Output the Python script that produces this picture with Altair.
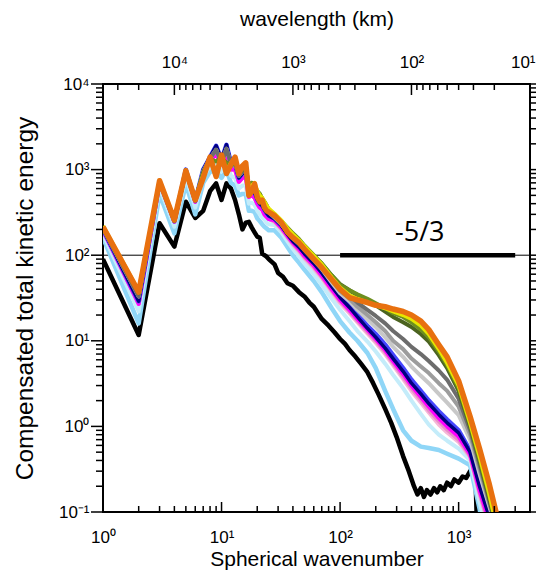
import altair as alt
import pandas as pd

# ---------------- data ----------------
n_low = list(range(1, 26))
n_high = [28, 32, 36, 40, 45, 50, 60, 70, 85, 100, 120, 140, 170, 200, 240, 280,
          340, 400, 480, 560, 680, 800, 1000, 1250, 1500, 1800, 2200]

low_orange = [215, 37, 740, 258, 970, 442, 800, 1400, 830, 1480, 900, 1150, 1400, 900, 1100, 1200, 500, 560, 680, 480, 420, 440, 360, 330, 320]
low_yellow = [220, 38, 750, 262, 990, 450, 850, 1380, 900, 1450, 950, 1200, 1350, 950, 1080, 1150, 600, 650, 700, 560, 500, 470, 420, 380, 350]
low_green = [210, 36, 730, 255, 960, 440, 900, 1300, 1250, 1350, 1200, 1100, 1250, 900, 1000, 1050, 650, 700, 640, 560, 520, 460, 420, 380, 340]
low_gray = [205, 33, 720, 250, 950, 435, 950, 1350, 1700, 1200, 1750, 1150, 1200, 850, 950, 1000, 620, 640, 600, 520, 460, 420, 380, 350, 320]
low_blue = [200, 29, 720, 250, 1000, 430, 1000, 1400, 1900, 1300, 1950, 1200, 1150, 800, 900, 950, 560, 580, 540, 450, 400, 380, 340, 310, 290]
low_magenta = [195, 27, 700, 245, 960, 420, 950, 1300, 1500, 1150, 1500, 1000, 1000, 720, 800, 820, 480, 500, 470, 400, 360, 340, 300, 280, 265]
low_lcyan = [175, 22, 620, 215, 820, 360, 820, 1100, 1150, 950, 1200, 850, 800, 600, 650, 650, 400, 410, 390, 330, 300, 280, 260, 240, 230]
low_lblue = [160, 16, 520, 180, 680, 300, 700, 950, 950, 800, 1000, 700, 650, 500, 520, 520, 330, 330, 320, 270, 250, 230, 215, 205, 195]
low_black = [90, 11.7, 236, 126, 422, 272, 330, 560, 690, 442, 690, 600, 442, 300, 200, 240, 245, 210, 185, 165, 160, 105, 100, 96, 90]

hi_orange = [290, 240, 185, 160, 140, 118, 90, 72, 52, 40, 32, 30, 28, 26, 25, 23.5, 22, 20, 17, 13.5, 9.0, 6.5, 3.4, 1.3, 0.55, 0.22, 0.07]
hi_yellow = [305, 255, 205, 175, 150, 128, 98, 78, 55, 42, 34, 31, 28, 26, 24, 22, 20, 18, 15, 12, 8, 5.5, 3.0, 1.1, 0.45, 0.17, 0.05]
hi_green = [300, 250, 210, 180, 155, 130, 100, 80, 58, 45, 39, 35, 31, 27.5, 24, 21, 19, 16.5, 13.5, 11, 7.5, 5.2, 2.8, 1.05, 0.42, 0.16, 0.05]
hi_olive = [295, 248, 205, 176, 150, 128, 98, 80, 58, 46, 39, 34, 30, 26, 22, 19, 16.5, 14.5, 12, 9.8, 6.8, 4.8, 2.6, 1.0, 0.4, 0.15, 0.05]
hi_dgray = [285, 240, 195, 168, 145, 124, 96, 76, 54, 41, 34, 28, 23, 19.5, 16, 13, 10.5, 8.5, 7, 5.8, 4.5, 3.5, 2.1, 0.9, 0.36, 0.14, 0.05]
hi_gray = [280, 235, 190, 163, 140, 120, 92, 72, 51, 38, 31, 25, 20, 16.5, 13, 10, 8, 6.2, 5, 4.2, 3.2, 2.6, 1.7, 0.8, 0.32, 0.13, 0.05]
hi_lgray = [275, 230, 185, 158, 136, 116, 88, 69, 48, 36, 29, 23, 18, 14.5, 11, 8.5, 6.5, 5.0, 3.9, 3.2, 2.4, 1.9, 1.35, 0.7, 0.28, 0.12, 0.05]
hi_blue = [270, 225, 180, 150, 128, 108, 82, 64, 45, 34, 26, 20, 15, 12, 9, 6.8, 4.8, 3.5, 2.6, 2.0, 1.5, 1.2, 0.9, 0.52, 0.22, 0.1, 0.04]
hi_navy = [265, 220, 175, 145, 124, 104, 80, 62, 43, 32, 24.5, 19, 14, 11, 8.2, 6.2, 4.4, 3.2, 2.4, 1.85, 1.38, 1.1, 0.84, 0.5, 0.2, 0.09, 0.04]
hi_magenta = [255, 210, 168, 140, 118, 98, 76, 58, 40, 30, 23, 18, 13.5, 10.5, 7.8, 5.8, 4.1, 3.0, 2.2, 1.7, 1.25, 1.0, 0.76, 0.47, 0.18, 0.08, 0.04]
hi_hotpink = [250, 205, 164, 136, 114, 95, 73, 56, 39, 29, 22, 17.2, 12.8, 10, 7.4, 5.5, 3.8, 2.8, 2.05, 1.55, 1.15, 0.92, 0.7, 0.45, 0.17, 0.07, 0.03]
hi_pink = [245, 200, 160, 132, 110, 92, 70, 54, 37, 27.5, 21, 16.5, 12.2, 9.5, 7, 5.2, 3.6, 2.6, 1.9, 1.45, 1.05, 0.85, 0.66, 0.44, 0.16, 0.07, 0.03]
hi_lcyan = [225, 185, 145, 118, 97, 80, 60, 45, 31, 23, 17, 13, 9.8, 7.5, 5.4, 4.0, 2.8, 2.0, 1.4, 1.05, 0.8, 0.68, 0.55, 0.4, 0.13, 0.05, 0.03]
hi_lblue = [195, 160, 125, 100, 82, 68, 50, 37, 24, 17, 12.5, 10, 7.2, 4.8, 2.6, 1.6, 0.9, 0.68, 0.58, 0.56, 0.53, 0.48, 0.42, 0.35, 0.11, 0.03, 0.03]

n_black = [28, 30, 33, 36, 40, 45, 50, 55, 60, 70, 80, 90, 100, 110, 120, 135, 150, 170, 190,
           210, 240, 270, 300, 340, 380, 420, 450, 480, 510, 540, 580, 620, 660, 700, 750,
           800, 860, 920, 1000, 1080, 1160, 1250, 1320, 1380, 1440]
hi_black = [78, 62, 56, 47, 44, 37, 33, 28, 25, 18, 15, 12.5, 10.5, 9.2, 7.8, 6.5, 5.4, 4.3, 3.2,
            2.4, 1.6, 1.1, 0.75, 0.45, 0.3, 0.2, 0.16, 0.19, 0.15, 0.18, 0.16, 0.19, 0.17, 0.2, 0.18,
            0.22, 0.2, 0.24, 0.22, 0.26, 0.25, 0.3, 0.29, 0.32, 0.05]

series = [
    ("black", "#000000", 4.5, low_black, hi_black, n_black),
    ("lightblue", "#8fd6f7", 4.5, low_lblue, hi_lblue, n_high),
    ("lightcyan", "#c4ecfa", 4, low_lcyan, hi_lcyan, n_high),
    ("pink", "#f6b6d8", 4, low_magenta, hi_pink, n_high),
    ("hotpink", "#e78cc8", 4, low_magenta, hi_hotpink, n_high),
    ("magenta", "#ff00ff", 4, low_magenta, hi_magenta, n_high),
    ("blue", "#4646ff", 4.5, low_blue, hi_blue, n_high),
    ("navy", "#000080", 3.5, low_blue, hi_navy, n_high),
    ("lightgray", "#c8c8c8", 4, low_gray, hi_lgray, n_high),
    ("gray", "#9c9c9c", 4, low_gray, hi_gray, n_high),
    ("darkgray", "#6c6c6c", 4, low_gray, hi_dgray, n_high),
    ("olive", "#4b6320", 4, low_green, hi_olive, n_high),
    ("green", "#6d8f1f", 4, low_green, hi_green, n_high),
    ("yellow", "#e6e600", 4, low_yellow, hi_yellow, n_high),
    ("orange", "#e8700f", 5.5, low_orange, hi_orange, n_high),
]

x_major = [1, 10, 100, 1000]
x_minor = [2, 3, 4, 5, 6, 7, 8, 9, 20, 30, 40, 50, 60, 70, 80, 90,
           200, 300, 400, 500, 600, 700, 800, 900, 2000, 3000, 4000]
y_major = [0.1, 1, 10, 100, 1000, 10000]
y_minor = [v * m for m in [0.1, 1, 10, 100, 1000] for v in [2, 3, 4, 5, 6, 7, 8, 9]]
lam_major = [10000, 1000, 100, 10]
lam_minor = [40000, 30000, 20000, 9000, 8000, 7000, 6000, 5000, 4000, 3000, 2000,
             900, 800, 700, 600, 500, 400, 300, 200, 90, 80, 70, 60, 50, 40, 30, 20]

slope_n = [100, 3000]
slope_E = [100, 100]
slope_label = "-5/3"
slope_label_n = 470
slope_label_E = 180

W, H = 427, 428
FONT = "Liberation Sans"

xs = alt.Scale(type="log", domain=[1, 4000])
ys = alt.Scale(type="log", domain=[0.1, 10000])
ls = alt.Scale(type="log", domain=[10, 40000], reverse=True)

sup_y = "'10' + ['⁻¹','⁰','¹','²','³','⁴'][round(log(datum.value)/LN10)+1]"
sup_x = "'10' + ['⁰','¹','²','³','⁴'][round(log(datum.value)/LN10)]"

XAX = alt.Axis(values=x_major, labelExpr=sup_x, ticks=False, tickSize=0, domain=False, grid=False,
               labelPadding=17, labelFontSize=17, title="Spherical wavenumber",
               titleFontSize=21, titlePadding=3, labelFlush=False, labelOverlap=False)
YAX = alt.Axis(values=y_major, labelExpr=sup_y, ticks=False, tickSize=0, domain=False, grid=False,
               labelPadding=14, labelFontSize=17, title="Compensated total kinetic energy",
               titleFontSize=24.5, titlePadding=21, labelFlush=False, labelOverlap=False)
TAX = alt.Axis(orient="top", values=lam_major, labelExpr=sup_x, ticks=False, tickSize=0, domain=False,
               grid=False, labelPadding=13, labelFontSize=17, title="wavelength (km)", titleFontSize=21,
               titlePadding=24, labelFlush=True, labelFlushOffset=5, labelOverlap=False, labelBound=False)


def X(f="n:Q"):
    return alt.X(f, scale=xs, axis=XAX)


def Y(f="E:Q"):
    return alt.Y(f, scale=ys, axis=YAX)


layers = []

# horizontal reference line at 100
layers.append(alt.Chart(pd.DataFrame({"E": [100]})).mark_rule(color="black", strokeWidth=1).encode(y=Y()))

for name, col, sw, low, hi, nh in series:
    df = pd.DataFrame({"n": n_low + nh, "E": low + hi})
    layers.append(alt.Chart(df).mark_line(clip=True, strokeWidth=sw, color=col,
                                          strokeJoin="round").encode(x=X(), y=Y()))

# -5/3 segment
layers.append(alt.Chart(pd.DataFrame({"n": slope_n, "E": slope_E})).mark_line(
    color="black", strokeWidth=4.5, clip=False).encode(x=X(), y=Y()))
layers.append(alt.Chart(pd.DataFrame({"n": [slope_label_n], "E": [slope_label_E], "t": [slope_label]})).mark_text(
    font="Open Sans", fontSize=27, color="black").encode(x=X(), y=Y(), text="t:N"))


def xticks(vals, length):
    return alt.Chart(pd.DataFrame({"n": vals})).mark_rule(color="black", strokeWidth=1.5).encode(
        x=X(), y=alt.value(H), y2=alt.value(H - length))


def yticks(vals, x0, x1):
    return alt.Chart(pd.DataFrame({"E": vals})).mark_rule(color="black", strokeWidth=1.5).encode(
        y=Y(), x=alt.value(x0), x2=alt.value(x1))


layers += [xticks(x_major, 10), xticks(x_minor, 6),
           yticks(y_major, 0, -12), yticks(y_minor, 0, -7),
           yticks(y_major, W, W + 12), yticks(y_minor, W, W + 7)]

# top wavelength axis (independent x)
top_major = alt.Chart(pd.DataFrame({"lam": lam_major})).mark_rule(color="black", strokeWidth=1.5).encode(
    x=alt.X("lam:Q", scale=ls, axis=TAX), y=alt.value(0), y2=alt.value(11))
top_minor = alt.Chart(pd.DataFrame({"lam": lam_minor})).mark_rule(color="black", strokeWidth=1.5).encode(
    x=alt.X("lam:Q", scale=ls, axis=TAX), y=alt.value(0), y2=alt.value(6))

main = alt.layer(*layers)
top = alt.layer(top_major, top_minor)

chart = alt.layer(main, top).resolve_scale(x="independent").properties(
    width=W, height=H,
    autosize=alt.AutoSizeParams(type="none"),
    padding={"left": 95, "top": 76, "right": 6, "bottom": 60},
).configure_view(stroke="black", strokeWidth=2).configure_axis(
    labelFont=FONT, titleFont=FONT, labelColor="black", titleColor="black",
    titleFontWeight="normal")

chart.save("out.html", embed_options={"renderer": "svg", "actions": False})
